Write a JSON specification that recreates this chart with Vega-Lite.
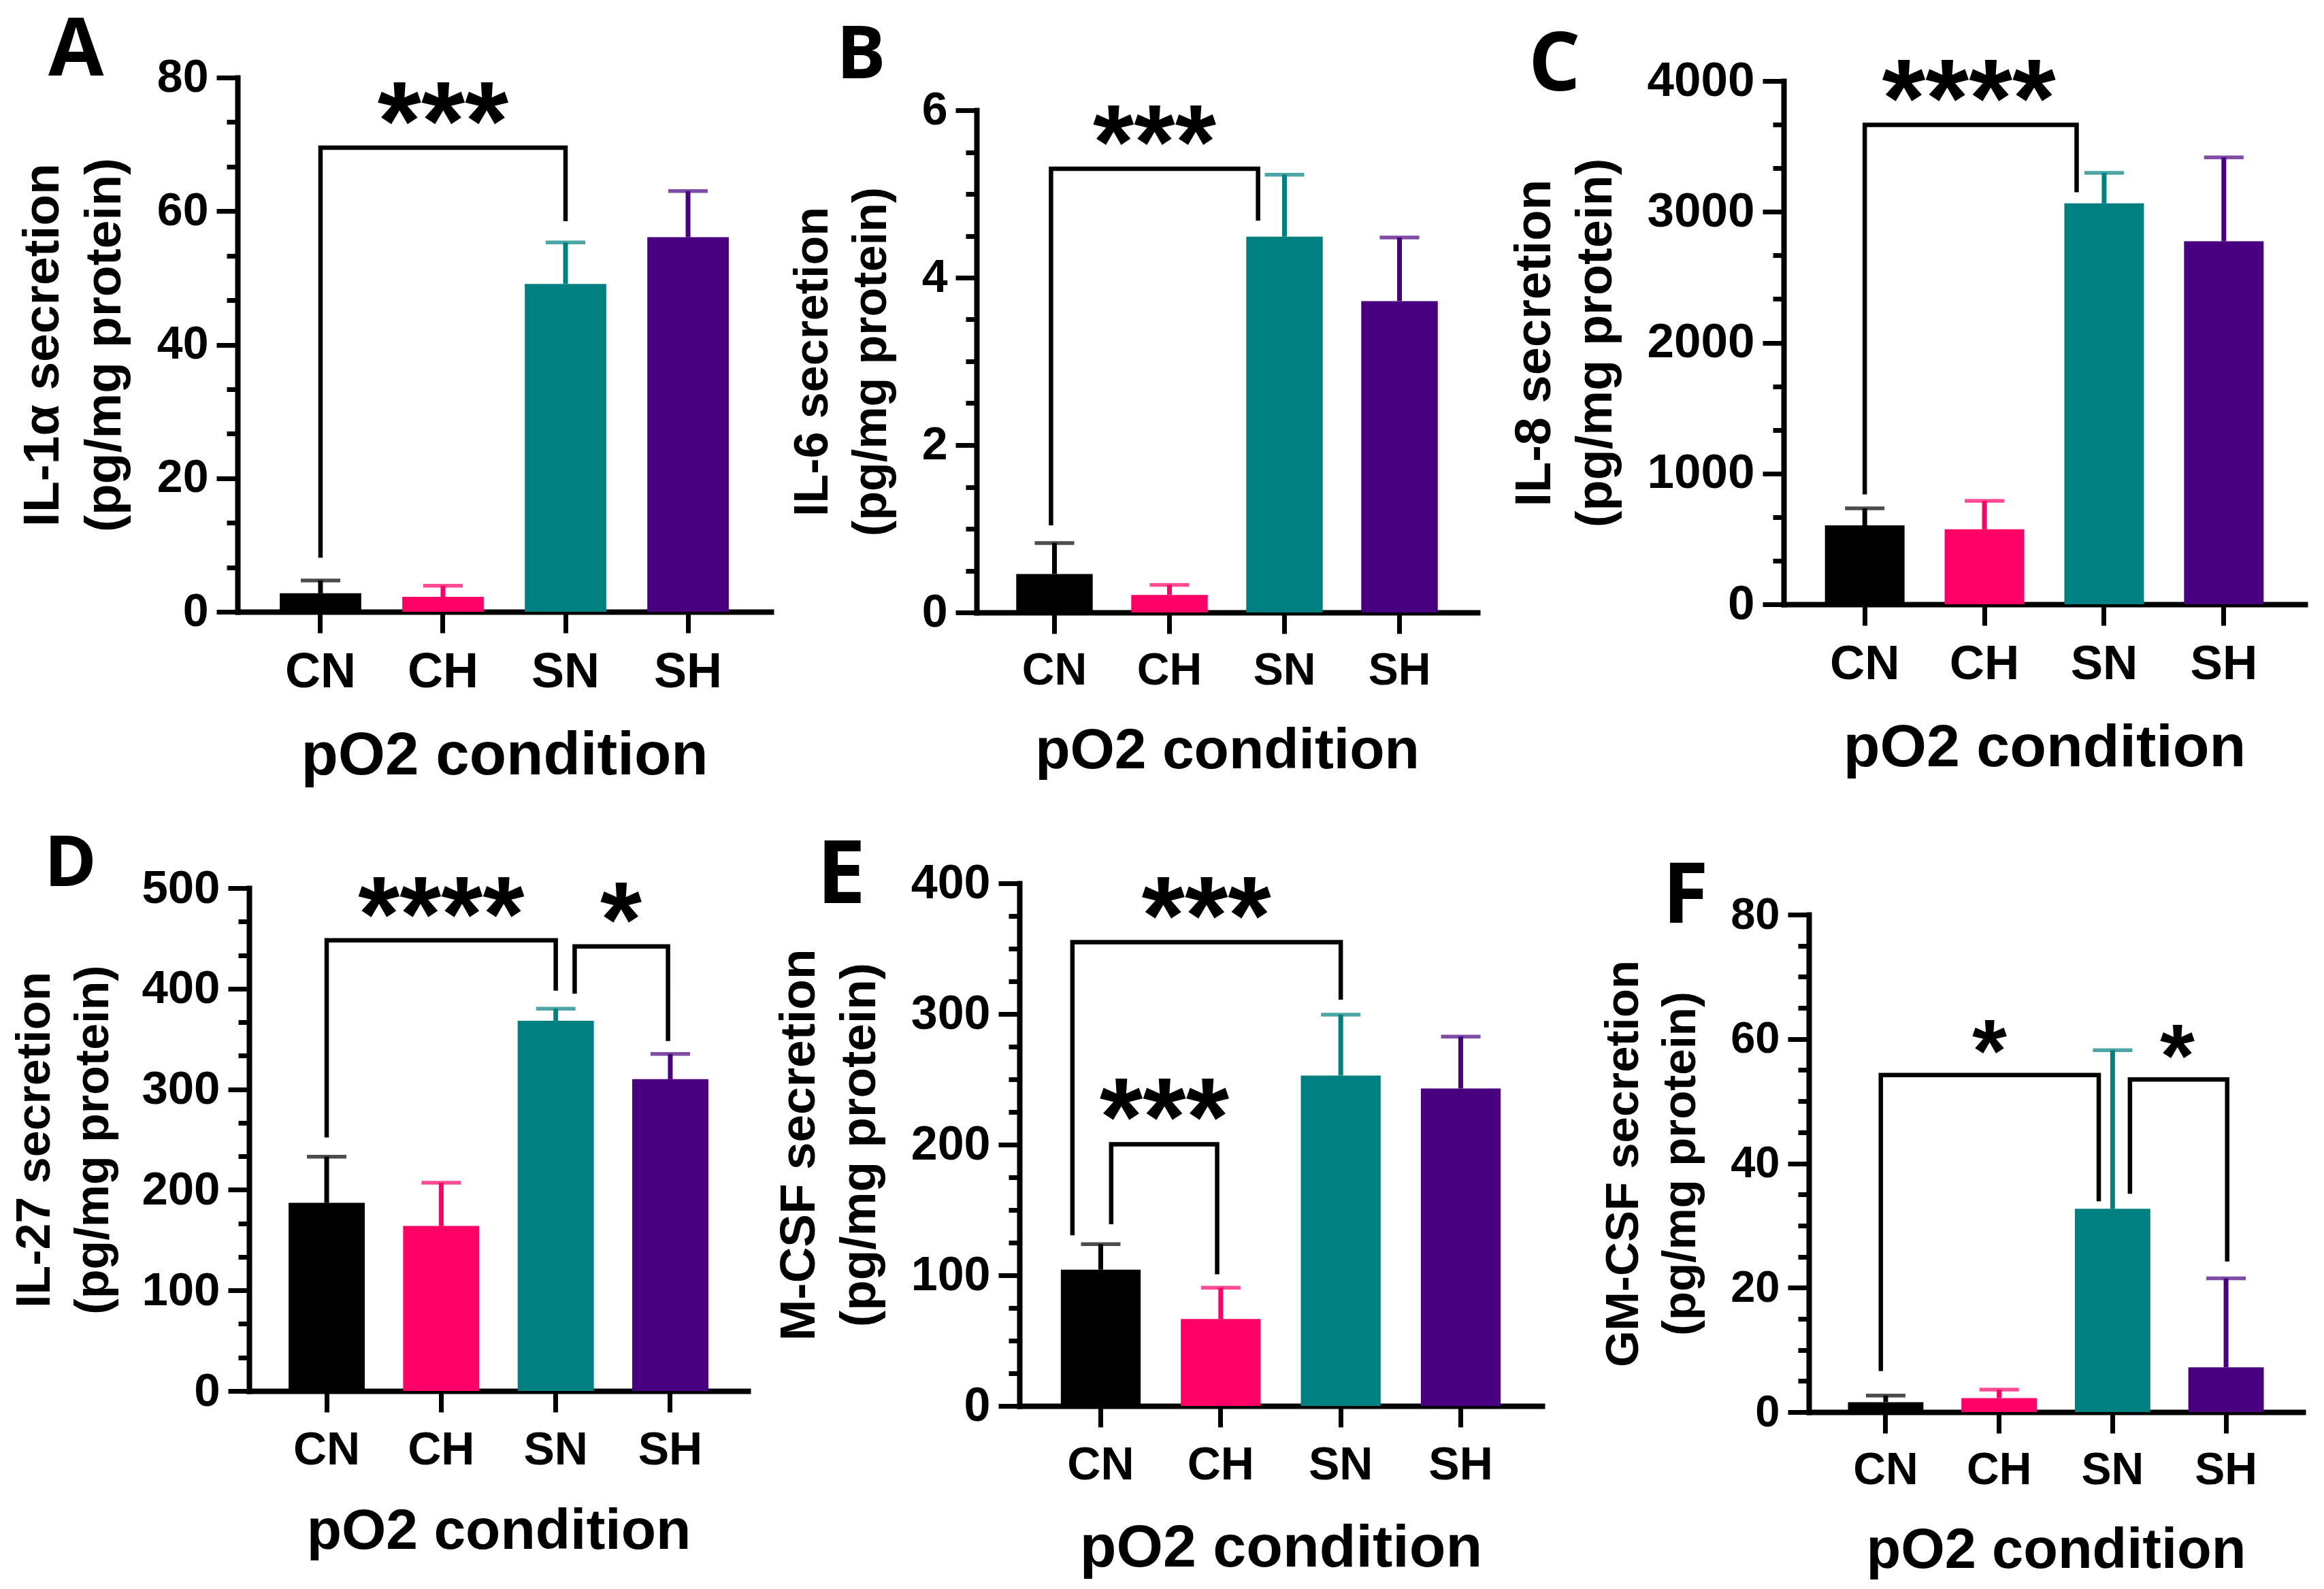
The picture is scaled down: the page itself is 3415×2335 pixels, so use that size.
{
"$schema": "https://vega.github.io/schema/vega-lite/v6.json",
"background": "white",
"padding": {"left": 16, "top": 17, "right": 5, "bottom": 5},
"datasets": {
"bars": [
{"panel":"A","group":"CN","mean":2.77,"upper":4.7},
{"panel":"A","group":"CH","mean":2.24,"upper":3.9},
{"panel":"A","group":"SN","mean":49.1,"upper":55.3},
{"panel":"A","group":"SH","mean":56.1,"upper":63.0},
{"panel":"B","group":"CN","mean":0.46,"upper":0.83},
{"panel":"B","group":"CH","mean":0.21,"upper":0.33},
{"panel":"B","group":"SN","mean":4.49,"upper":5.23},
{"panel":"B","group":"SH","mean":3.72,"upper":4.48},
{"panel":"C","group":"CN","mean":603,"upper":733},
{"panel":"C","group":"CH","mean":573,"upper":790},
{"panel":"C","group":"SN","mean":3065,"upper":3298},
{"panel":"C","group":"SH","mean":2775,"upper":3416},
{"panel":"D","group":"CN","mean":187,"upper":233},
{"panel":"D","group":"CH","mean":164,"upper":207},
{"panel":"D","group":"SN","mean":368,"upper":380},
{"panel":"D","group":"SH","mean":310,"upper":335},
{"panel":"E","group":"CN","mean":104.3,"upper":123.8},
{"panel":"E","group":"CH","mean":66.5,"upper":90.5},
{"panel":"E","group":"SN","mean":252.9,"upper":299.5},
{"panel":"E","group":"SH","mean":243,"upper":282.7},
{"panel":"F","group":"CN","mean":1.6,"upper":2.65},
{"panel":"F","group":"CH","mean":2.25,"upper":3.6},
{"panel":"F","group":"SN","mean":32.7,"upper":58.2},
{"panel":"F","group":"SH","mean":7.2,"upper":21.5}
],
"brackets": [
{"panel":"A","bracket":"A1","pt":1,"x":1,"y":8.1},
{"panel":"A","bracket":"A1","pt":2,"x":1,"y":69.5},
{"panel":"A","bracket":"A1","pt":3,"x":3,"y":69.5},
{"panel":"A","bracket":"A1","pt":4,"x":3,"y":58.5},
{"panel":"B","bracket":"B1","pt":1,"x":0.97,"y":1.04},
{"panel":"B","bracket":"B1","pt":2,"x":0.97,"y":5.30},
{"panel":"B","bracket":"B1","pt":3,"x":2.77,"y":5.30},
{"panel":"B","bracket":"B1","pt":4,"x":2.77,"y":4.68},
{"panel":"C","bracket":"C1","pt":1,"x":1,"y":840},
{"panel":"C","bracket":"C1","pt":2,"x":1,"y":3664},
{"panel":"C","bracket":"C1","pt":3,"x":2.77,"y":3664},
{"panel":"C","bracket":"C1","pt":4,"x":2.77,"y":3149},
{"panel":"D","bracket":"D1","pt":1,"x":1,"y":252},
{"panel":"D","bracket":"D1","pt":2,"x":1,"y":448},
{"panel":"D","bracket":"D1","pt":3,"x":3,"y":448},
{"panel":"D","bracket":"D1","pt":4,"x":3,"y":398},
{"panel":"D","bracket":"D2","pt":1,"x":3.165,"y":395},
{"panel":"D","bracket":"D2","pt":2,"x":3.165,"y":442},
{"panel":"D","bracket":"D2","pt":3,"x":3.98,"y":442},
{"panel":"D","bracket":"D2","pt":4,"x":3.98,"y":348},
{"panel":"E","bracket":"E1","pt":1,"x":0.764,"y":130.6},
{"panel":"E","bracket":"E1","pt":2,"x":0.764,"y":354.9},
{"panel":"E","bracket":"E1","pt":3,"x":3,"y":354.9},
{"panel":"E","bracket":"E1","pt":4,"x":3,"y":311},
{"panel":"E","bracket":"E2","pt":1,"x":1.087,"y":139},
{"panel":"E","bracket":"E2","pt":2,"x":1.087,"y":200.2},
{"panel":"E","bracket":"E2","pt":3,"x":1.97,"y":200.2},
{"panel":"E","bracket":"E2","pt":4,"x":1.97,"y":100.8},
{"panel":"F","bracket":"F1","pt":1,"x":0.957,"y":6.6},
{"panel":"F","bracket":"F1","pt":2,"x":0.957,"y":54.2},
{"panel":"F","bracket":"F1","pt":3,"x":2.878,"y":54.2},
{"panel":"F","bracket":"F1","pt":4,"x":2.878,"y":33.9},
{"panel":"F","bracket":"F2","pt":1,"x":3.153,"y":35.1},
{"panel":"F","bracket":"F2","pt":2,"x":3.153,"y":53.5},
{"panel":"F","bracket":"F2","pt":3,"x":4.01,"y":53.5},
{"panel":"F","bracket":"F2","pt":4,"x":4.01,"y":24.2}
],
"stars": [
{"panel":"A","label":"***","x":2,"y":76.0},
{"panel":"B","label":"***","x":1.87,"y":5.81},
{"panel":"C","label":"****","x":1.87,"y":3994},
{"panel":"D","label":"****","x":2,"y":490},
{"panel":"D","label":"*","x":3.57,"y":484.6},
{"panel":"E","label":"***","x":1.88,"y":388},
{"panel":"E","label":"***","x":1.53,"y":234},
{"panel":"F","label":"*","x":1.915,"y":60.2},
{"panel":"F","label":"*","x":3.571,"y":59.4}
]
},
"config": {
"view": {"stroke": null},
"axis": {"domainColor": "black", "domainWidth": 8, "domainCap": "square", "tickColor": "black", "tickWidth": 7, "ticks": true, "labelFont": "Liberation Sans", "labelFontWeight": "bold", "labelColor": "black", "titleFont": "Liberation Sans", "titleFontWeight": "bold", "titleColor": "black", "grid": false},
"axisX": {"tickSize": 31, "labelPadding": 22, "labelAngle": 0, "titlePadding": 44},
"axisY": {"labelPadding": 12, "titlePadding": 38, "tickSize": 31, "format": "d"},
"title": {"font": "Open Sans", "fontWeight": "bold", "color": "black", "anchor": "start", "frame": "group", "baseline": "alphabetic"}
},
"vconcat": [
{"hconcat": [
{
"width": 784, "height": 785,
"title": {"text": "A", "fontSize": 118, "dx": -278, "offset": -56},
"resolve": {"scale": {"x": "independent"}, "axis": {"y": "independent"}},
"layer": [
{"data": {"name": "bars"}, "transform": [{"filter": "datum.panel === 'A'"}],
 "mark": {"type": "bar"},
 "encoding": {
  "x": {"field": "group", "type": "nominal", "scale": {"domain": ["CN","CH","SN","SH"], "paddingInner": 0.335, "paddingOuter": 0.345},
        "axis": {"title": "pO2 condition", "titleFontSize": 89, "labelFontSize": 72}},
  "y": {"field": "mean", "type": "quantitative", "scale": {"domain": [0, 80], "nice": false},
        "axis": {"orient": "left", "title": ["IL-1α secretion", "(pg/mg protein)"], "titleFontSize": 75, "titleLineHeight": 91, "labelFontSize": 68, "values": [0, 20, 40, 60, 80]}},
  "color": {"field": "group", "type": "nominal", "scale": {"domain": ["CN","CH","SN","SH"], "range": ["#000000","#FF0066","#008080","#480080"]}, "legend": null}
 }},
{"data": {"name": "bars"}, "transform": [{"filter": "datum.panel === 'A'"}],
 "mark": {"type": "rule", "strokeWidth": 7},
 "encoding": {
  "x": {"field": "group", "type": "nominal", "scale": {"domain": ["CN","CH","SN","SH"], "paddingInner": 0.335, "paddingOuter": 0.345}, "axis": null},
  "y": {"field": "mean", "type": "quantitative", "axis": {"orient": "left", "title": null, "labels": false, "domain": false, "tickSize": 16, "values": [6.6667, 13.3333, 26.6667, 33.3333, 46.6667, 53.3333, 66.6667, 73.3333]}},
  "y2": {"field": "upper"},
  "color": {"field": "group", "type": "nominal", "legend": null}
 }},
{"data": {"name": "bars"}, "transform": [{"filter": "datum.panel === 'A'"}],
 "mark": {"type": "tick", "thickness": 5.5, "size": 58},
 "encoding": {
  "x": {"field": "group", "type": "nominal", "scale": {"domain": ["CN","CH","SN","SH"], "paddingInner": 0.335, "paddingOuter": 0.345}, "axis": null},
  "y": {"field": "upper", "type": "quantitative", "axis": null},
  "color": {"field": "group", "type": "nominal", "legend": null}
 }},
{"data": {"name": "brackets"}, "transform": [{"filter": "datum.panel === 'A'"}],
 "mark": {"type": "line", "color": "black", "strokeWidth": 6.5, "strokeJoin": "miter", "strokeCap": "butt"},
 "encoding": {
  "x": {"field": "x", "type": "quantitative", "scale": {"domain": [0.3225, 4.6775], "nice": false, "zero": false}, "axis": null},
  "y": {"field": "y", "type": "quantitative", "axis": null},
  "detail": {"field": "bracket"},
  "order": {"field": "pt"}
 }},
{"data": {"name": "stars"}, "transform": [{"filter": "datum.panel === 'A'"}],
 "mark": {"type": "text", "font": "Liberation Sans", "fontWeight": "bold", "fontSize": 165, "baseline": "middle", "dy": 32, "color": "black"},
 "encoding": {
  "x": {"field": "x", "type": "quantitative", "scale": {"domain": [0.3225, 4.6775], "nice": false, "zero": false}, "axis": null},
  "y": {"field": "y", "type": "quantitative", "axis": null},
  "text": {"field": "label"}
 }}
]
},
{
"width": 736, "height": 786,
"title": {"text": "B", "fontSize": 108, "dx": -206, "offset": -24},
"resolve": {"scale": {"x": "independent"}, "axis": {"y": "independent"}},
"layer": [
{"data": {"name": "bars"}, "transform": [{"filter": "datum.panel === 'B'"}],
 "mark": {"type": "bar"},
 "encoding": {
  "x": {"field": "group", "type": "nominal", "scale": {"domain": ["CN","CH","SN","SH"], "paddingInner": 0.335, "paddingOuter": 0.345},
        "axis": {"title": "pO2 condition", "titleFontSize": 84, "labelFontSize": 66}},
  "y": {"field": "mean", "type": "quantitative", "scale": {"domain": [0, 6], "nice": false, "range": [786, 48]},
        "axis": {"orient": "left", "title": ["IL-6 secretion", "(pg/mg protein)"], "titleFontSize": 70, "titleLineHeight": 86, "labelFontSize": 68, "values": [0, 2, 4, 6]}},
  "color": {"field": "group", "type": "nominal", "scale": {"domain": ["CN","CH","SN","SH"], "range": ["#000000","#FF0066","#008080","#480080"]}, "legend": null}
 }},
{"data": {"name": "bars"}, "transform": [{"filter": "datum.panel === 'B'"}],
 "mark": {"type": "rule", "strokeWidth": 7},
 "encoding": {
  "x": {"field": "group", "type": "nominal", "scale": {"domain": ["CN","CH","SN","SH"], "paddingInner": 0.335, "paddingOuter": 0.345}, "axis": null},
  "y": {"field": "mean", "type": "quantitative", "axis": {"orient": "left", "title": null, "labels": false, "domain": false, "tickSize": 16, "values": [0.5, 1, 1.5, 2.5, 3, 3.5, 4.5, 5, 5.5]}},
  "y2": {"field": "upper"},
  "color": {"field": "group", "type": "nominal", "legend": null}
 }},
{"data": {"name": "bars"}, "transform": [{"filter": "datum.panel === 'B'"}],
 "mark": {"type": "tick", "thickness": 5.5, "size": 58},
 "encoding": {
  "x": {"field": "group", "type": "nominal", "scale": {"domain": ["CN","CH","SN","SH"], "paddingInner": 0.335, "paddingOuter": 0.345}, "axis": null},
  "y": {"field": "upper", "type": "quantitative", "axis": null},
  "color": {"field": "group", "type": "nominal", "legend": null}
 }},
{"data": {"name": "brackets"}, "transform": [{"filter": "datum.panel === 'B'"}],
 "mark": {"type": "line", "color": "black", "strokeWidth": 6.5, "strokeJoin": "miter", "strokeCap": "butt"},
 "encoding": {
  "x": {"field": "x", "type": "quantitative", "scale": {"domain": [0.3225, 4.6775], "nice": false, "zero": false}, "axis": null},
  "y": {"field": "y", "type": "quantitative", "axis": {"orient": "right", "domain": false, "ticks": false, "labels": false, "grid": false, "title": " ", "titleFontSize": 10, "titlePadding": 11}},
  "detail": {"field": "bracket"},
  "order": {"field": "pt"}
 }},
{"data": {"name": "stars"}, "transform": [{"filter": "datum.panel === 'B'"}],
 "mark": {"type": "text", "font": "Liberation Sans", "fontWeight": "bold", "fontSize": 155, "baseline": "middle", "dy": 30, "color": "black"},
 "encoding": {
  "x": {"field": "x", "type": "quantitative", "scale": {"domain": [0.3225, 4.6775], "nice": false, "zero": false}, "axis": null},
  "y": {"field": "y", "type": "quantitative", "axis": null},
  "text": {"field": "label"}
 }}
]
},
{
"width": 766, "height": 774,
"title": {"text": "C", "fontSize": 120, "dx": -375, "offset": -88},
"resolve": {"scale": {"x": "independent"}, "axis": {"y": "independent"}},
"layer": [
{"data": {"name": "bars"}, "transform": [{"filter": "datum.panel === 'C'"}],
 "mark": {"type": "bar"},
 "encoding": {
  "x": {"field": "group", "type": "nominal", "scale": {"domain": ["CN","CH","SN","SH"], "paddingInner": 0.335, "paddingOuter": 0.345},
        "axis": {"title": "pO2 condition", "titleFontSize": 88, "labelFontSize": 71}},
  "y": {"field": "mean", "type": "quantitative", "scale": {"domain": [0, 4000], "nice": false, "range": [774, 5]},
        "axis": {"orient": "left", "title": ["IL-8 secretion", "(pg/mg protein)"], "titleFontSize": 74, "titleLineHeight": 90, "labelFontSize": 71, "values": [0, 1000, 2000, 3000, 4000]}},
  "color": {"field": "group", "type": "nominal", "scale": {"domain": ["CN","CH","SN","SH"], "range": ["#000000","#FF0066","#008080","#480080"]}, "legend": null}
 }},
{"data": {"name": "bars"}, "transform": [{"filter": "datum.panel === 'C'"}],
 "mark": {"type": "rule", "strokeWidth": 7},
 "encoding": {
  "x": {"field": "group", "type": "nominal", "scale": {"domain": ["CN","CH","SN","SH"], "paddingInner": 0.335, "paddingOuter": 0.345}, "axis": null},
  "y": {"field": "mean", "type": "quantitative", "axis": {"orient": "left", "title": null, "labels": false, "domain": false, "tickSize": 16, "values": [333.33, 666.67, 1333.33, 1666.67, 2333.33, 2666.67, 3333.33, 3666.67]}},
  "y2": {"field": "upper"},
  "color": {"field": "group", "type": "nominal", "legend": null}
 }},
{"data": {"name": "bars"}, "transform": [{"filter": "datum.panel === 'C'"}],
 "mark": {"type": "tick", "thickness": 5.5, "size": 58},
 "encoding": {
  "x": {"field": "group", "type": "nominal", "scale": {"domain": ["CN","CH","SN","SH"], "paddingInner": 0.335, "paddingOuter": 0.345}, "axis": null},
  "y": {"field": "upper", "type": "quantitative", "axis": null},
  "color": {"field": "group", "type": "nominal", "legend": null}
 }},
{"data": {"name": "brackets"}, "transform": [{"filter": "datum.panel === 'C'"}],
 "mark": {"type": "line", "color": "black", "strokeWidth": 6.5, "strokeJoin": "miter", "strokeCap": "butt"},
 "encoding": {
  "x": {"field": "x", "type": "quantitative", "scale": {"domain": [0.3225, 4.6775], "nice": false, "zero": false}, "axis": null},
  "y": {"field": "y", "type": "quantitative", "axis": null},
  "detail": {"field": "bracket"},
  "order": {"field": "pt"}
 }},
{"data": {"name": "stars"}, "transform": [{"filter": "datum.panel === 'C'"}],
 "mark": {"type": "text", "font": "Liberation Sans", "fontWeight": "bold", "fontSize": 164, "baseline": "middle", "dy": 32, "color": "black"},
 "encoding": {
  "x": {"field": "x", "type": "quantitative", "scale": {"domain": [0.3225, 4.6775], "nice": false, "zero": false}, "axis": null},
  "y": {"field": "y", "type": "quantitative", "axis": null},
  "text": {"field": "label"}
 }}
]
}
], "spacing": 26, "align": "none"},
{"hconcat": [
{
"width": 750, "height": 746,
"title": {"text": "D", "fontSize": 104, "dx": -284, "offset": -53},
"resolve": {"scale": {"x": "independent"}, "axis": {"y": "independent"}},
"layer": [
{"data": {"name": "bars"}, "transform": [{"filter": "datum.panel === 'D'"}],
 "mark": {"type": "bar"},
 "encoding": {
  "x": {"field": "group", "type": "nominal", "scale": {"domain": ["CN","CH","SN","SH"], "paddingInner": 0.335, "paddingOuter": 0.345, "range": [17, 750]},
        "axis": {"title": "pO2 condition", "titleFontSize": 84, "labelFontSize": 68}},
  "y": {"field": "mean", "type": "quantitative", "scale": {"domain": [0, 500], "nice": false, "range": [746, 7]},
        "axis": {"orient": "left", "offset": -17, "titlePadding": 34, "title": ["IL-27 secretion", "(pg/mg protein)"], "titleFontSize": 70, "titleLineHeight": 86, "labelFontSize": 69, "values": [0, 100, 200, 300, 400, 500]}},
  "color": {"field": "group", "type": "nominal", "scale": {"domain": ["CN","CH","SN","SH"], "range": ["#000000","#FF0066","#008080","#480080"]}, "legend": null}
 }},
{"data": {"name": "bars"}, "transform": [{"filter": "datum.panel === 'D'"}],
 "mark": {"type": "rule", "strokeWidth": 7},
 "encoding": {
  "x": {"field": "group", "type": "nominal", "scale": {"domain": ["CN","CH","SN","SH"], "paddingInner": 0.335, "paddingOuter": 0.345, "range": [17, 750]}, "axis": null},
  "y": {"field": "mean", "type": "quantitative", "axis": {"orient": "left", "offset": -17, "title": null, "labels": false, "domain": false, "tickSize": 16, "values": [33.333, 66.667, 133.333, 166.667, 233.333, 266.667, 333.333, 366.667, 433.333, 466.667]}},
  "y2": {"field": "upper"},
  "color": {"field": "group", "type": "nominal", "legend": null}
 }},
{"data": {"name": "bars"}, "transform": [{"filter": "datum.panel === 'D'"}],
 "mark": {"type": "tick", "thickness": 5.5, "size": 58},
 "encoding": {
  "x": {"field": "group", "type": "nominal", "scale": {"domain": ["CN","CH","SN","SH"], "paddingInner": 0.335, "paddingOuter": 0.345, "range": [17, 750]}, "axis": null},
  "y": {"field": "upper", "type": "quantitative", "axis": null},
  "color": {"field": "group", "type": "nominal", "legend": null}
 }},
{"data": {"name": "brackets"}, "transform": [{"filter": "datum.panel === 'D'"}],
 "mark": {"type": "line", "color": "black", "strokeWidth": 6.5, "strokeJoin": "miter", "strokeCap": "butt"},
 "encoding": {
  "x": {"field": "x", "type": "quantitative", "scale": {"domain": [0.3225, 4.6775], "nice": false, "zero": false, "range": [17, 750]}, "axis": null},
  "y": {"field": "y", "type": "quantitative", "axis": null},
  "detail": {"field": "bracket"},
  "order": {"field": "pt"}
 }},
{"data": {"name": "stars"}, "transform": [{"filter": "datum.panel === 'D'"}],
 "mark": {"type": "text", "font": "Liberation Sans", "fontWeight": "bold", "fontSize": 157, "baseline": "middle", "dy": 31, "color": "black"},
 "encoding": {
  "x": {"field": "x", "type": "quantitative", "scale": {"domain": [0.3225, 4.6775], "nice": false, "zero": false, "range": [17, 750]}, "axis": null},
  "y": {"field": "y", "type": "quantitative", "axis": null},
  "text": {"field": "label"}
 }}
]
},
{
"width": 768, "height": 768,
"title": {"text": "E", "fontSize": 129, "dx": -298, "offset": -91},
"resolve": {"scale": {"x": "independent"}, "axis": {"y": "independent"}},
"layer": [
{"data": {"name": "bars"}, "transform": [{"filter": "datum.panel === 'E'"}],
 "mark": {"type": "bar"},
 "encoding": {
  "x": {"field": "group", "type": "nominal", "scale": {"domain": ["CN","CH","SN","SH"], "paddingInner": 0.335, "paddingOuter": 0.345},
        "axis": {"title": "pO2 condition", "titleFontSize": 88, "labelFontSize": 68}},
  "y": {"field": "mean", "type": "quantitative", "scale": {"domain": [0, 400], "nice": false},
        "axis": {"orient": "left", "title": ["M-CSF secretion", "(pg/mg protein)"], "titleFontSize": 73, "titleLineHeight": 89, "labelFontSize": 70, "values": [0, 100, 200, 300, 400]}},
  "color": {"field": "group", "type": "nominal", "scale": {"domain": ["CN","CH","SN","SH"], "range": ["#000000","#FF0066","#008080","#480080"]}, "legend": null}
 }},
{"data": {"name": "bars"}, "transform": [{"filter": "datum.panel === 'E'"}],
 "mark": {"type": "rule", "strokeWidth": 7},
 "encoding": {
  "x": {"field": "group", "type": "nominal", "scale": {"domain": ["CN","CH","SN","SH"], "paddingInner": 0.335, "paddingOuter": 0.345}, "axis": null},
  "y": {"field": "mean", "type": "quantitative", "axis": {"orient": "left", "title": null, "labels": false, "domain": false, "tickSize": 16, "values": [25, 50, 75, 125, 150, 175, 225, 250, 275, 325, 350, 375]}},
  "y2": {"field": "upper"},
  "color": {"field": "group", "type": "nominal", "legend": null}
 }},
{"data": {"name": "bars"}, "transform": [{"filter": "datum.panel === 'E'"}],
 "mark": {"type": "tick", "thickness": 5.5, "size": 58},
 "encoding": {
  "x": {"field": "group", "type": "nominal", "scale": {"domain": ["CN","CH","SN","SH"], "paddingInner": 0.335, "paddingOuter": 0.345}, "axis": null},
  "y": {"field": "upper", "type": "quantitative", "axis": null},
  "color": {"field": "group", "type": "nominal", "legend": null}
 }},
{"data": {"name": "brackets"}, "transform": [{"filter": "datum.panel === 'E'"}],
 "mark": {"type": "line", "color": "black", "strokeWidth": 6.5, "strokeJoin": "miter", "strokeCap": "butt"},
 "encoding": {
  "x": {"field": "x", "type": "quantitative", "scale": {"domain": [0.3225, 4.6775], "nice": false, "zero": false}, "axis": null},
  "y": {"field": "y", "type": "quantitative", "axis": {"orient": "right", "domain": false, "ticks": false, "labels": false, "grid": false, "title": " ", "titleFontSize": 10, "titlePadding": 36}},
  "detail": {"field": "bracket"},
  "order": {"field": "pt"}
 }},
{"data": {"name": "stars"}, "transform": [{"filter": "datum.panel === 'E'"}],
 "mark": {"type": "text", "font": "Liberation Sans", "fontWeight": "bold", "fontSize": 163, "baseline": "middle", "dy": 32, "color": "black"},
 "encoding": {
  "x": {"field": "x", "type": "quantitative", "scale": {"domain": [0.3225, 4.6775], "nice": false, "zero": false}, "axis": null},
  "y": {"field": "y", "type": "quantitative", "axis": null},
  "text": {"field": "label"}
 }}
]
},
{
"width": 726, "height": 777,
"title": {"text": "F", "fontSize": 123, "dx": -215, "offset": -84},
"resolve": {"scale": {"x": "independent"}, "axis": {"y": "independent"}},
"layer": [
{"data": {"name": "bars"}, "transform": [{"filter": "datum.panel === 'F'"}],
 "mark": {"type": "bar"},
 "encoding": {
  "x": {"field": "group", "type": "nominal", "scale": {"domain": ["CN","CH","SN","SH"], "paddingInner": 0.335, "paddingOuter": 0.345},
        "axis": {"title": "pO2 condition", "titleFontSize": 83, "labelFontSize": 66}},
  "y": {"field": "mean", "type": "quantitative", "scale": {"domain": [0, 80], "nice": false, "range": [777, 46]},
        "axis": {"orient": "left", "title": ["GM-CSF secretion", "(pg/mg protein)"], "titleFontSize": 69, "titleLineHeight": 84, "labelFontSize": 65, "values": [0, 20, 40, 60, 80]}},
  "color": {"field": "group", "type": "nominal", "scale": {"domain": ["CN","CH","SN","SH"], "range": ["#000000","#FF0066","#008080","#480080"]}, "legend": null}
 }},
{"data": {"name": "bars"}, "transform": [{"filter": "datum.panel === 'F'"}],
 "mark": {"type": "rule", "strokeWidth": 7},
 "encoding": {
  "x": {"field": "group", "type": "nominal", "scale": {"domain": ["CN","CH","SN","SH"], "paddingInner": 0.335, "paddingOuter": 0.345}, "axis": null},
  "y": {"field": "mean", "type": "quantitative", "axis": {"orient": "left", "title": null, "labels": false, "domain": false, "tickSize": 16, "values": [5, 10, 15, 25, 30, 35, 45, 50, 55, 65, 70, 75]}},
  "y2": {"field": "upper"},
  "color": {"field": "group", "type": "nominal", "legend": null}
 }},
{"data": {"name": "bars"}, "transform": [{"filter": "datum.panel === 'F'"}],
 "mark": {"type": "tick", "thickness": 5.5, "size": 58},
 "encoding": {
  "x": {"field": "group", "type": "nominal", "scale": {"domain": ["CN","CH","SN","SH"], "paddingInner": 0.335, "paddingOuter": 0.345}, "axis": null},
  "y": {"field": "upper", "type": "quantitative", "axis": null},
  "color": {"field": "group", "type": "nominal", "legend": null}
 }},
{"data": {"name": "brackets"}, "transform": [{"filter": "datum.panel === 'F'"}],
 "mark": {"type": "line", "color": "black", "strokeWidth": 6.5, "strokeJoin": "miter", "strokeCap": "butt"},
 "encoding": {
  "x": {"field": "x", "type": "quantitative", "scale": {"domain": [0.3225, 4.6775], "nice": false, "zero": false}, "axis": null},
  "y": {"field": "y", "type": "quantitative", "axis": null},
  "detail": {"field": "bracket"},
  "order": {"field": "pt"}
 }},
{"data": {"name": "stars"}, "transform": [{"filter": "datum.panel === 'F'"}],
 "mark": {"type": "text", "font": "Liberation Sans", "fontWeight": "bold", "fontSize": 131, "baseline": "middle", "dy": 26, "color": "black"},
 "encoding": {
  "x": {"field": "x", "type": "quantitative", "scale": {"domain": [0.3225, 4.6775], "nice": false, "zero": false}, "axis": null},
  "y": {"field": "y", "type": "quantitative", "axis": null},
  "text": {"field": "label"}
 }}
]
}
], "spacing": 39, "align": "none"}
],
"spacing": 64,
"align": "none"
}
